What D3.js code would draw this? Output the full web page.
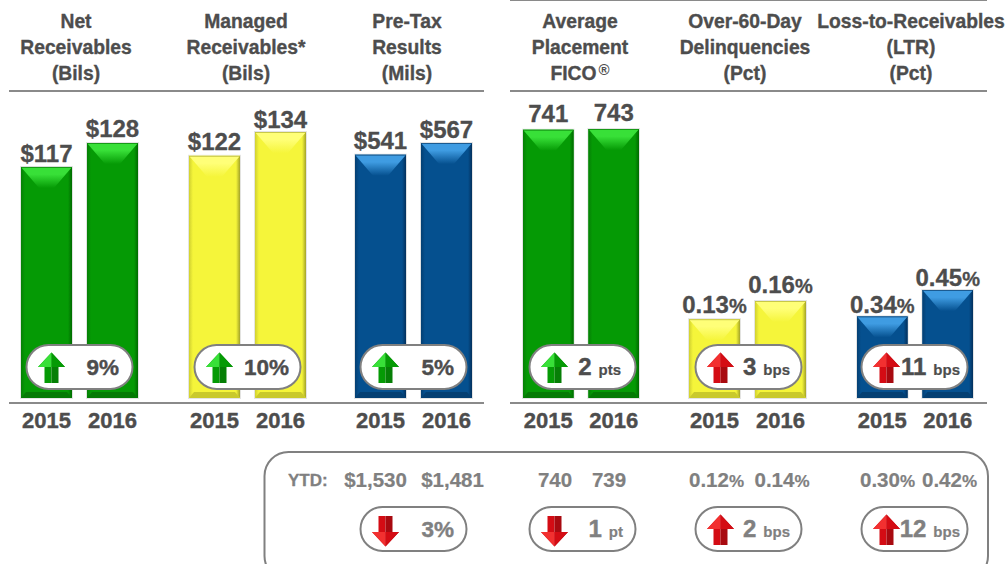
<!DOCTYPE html>
<html><head><meta charset="utf-8">
<script src="https://cdnjs.cloudflare.com/ajax/libs/d3/7.8.5/d3.min.js"></script>
<style>html,body{margin:0;padding:0;background:#fff;overflow:hidden}
text{font-family:"Liberation Sans",Arial,sans-serif;font-weight:700;stroke-linejoin:round}</style></head>
<body><svg id="c" width="1005" height="564"></svg>
<script>
const years = ["2015","2016"];
const titles = [
  ["Net","Receivables","(Bils)"],
  ["Managed","Receivables*","(Bils)"],
  ["Pre-Tax","Results","(Mils)"],
  ["Average","Placement","FICO"],
  ["Over-60-Day","Delinquencies","(Pct)"],
  ["Loss-to-Receivables","(LTR)","(Pct)"]];
const values2015 = [117,122,541,741,0.13,0.34];
const values2016 = [128,134,567,743,0.16,0.45];
const valuePrefix = ["$","$","$","","",""];
const valueSuffix = ["","","","","%","%"];
const valueDigits = [0,0,0,0,2,2];
const palette = ["green","yellow","blue","green","yellow","blue"];
const changeDir = ["up","up","up","up","up","up"];
const changeColor = ["green","green","green","green","red","red"];
const changeNum = ["9%","10%","5%","2","3","11"];
const changeUnit = ["","","","pts","bps","bps"];
const ytd2015 = [null,null,"$1,530","740","0.12","0.30"];
const ytd2016 = [null,null,"$1,481","739","0.14","0.42"];
const ytdDir = [null,null,"down","down","up","up"];
const ytdColor = [null,null,"red","red","red","red"];
const ytdNum = [null,null,"3%","1","2","12"];
const ytdUnit = [null,null,"","pt","bps","bps"];

// layout
const panelLeft = [21,189,355,523,689,857];
const panelWidth = [117,117,117,116,117,116];
const titleCenter = [76,246,407,580,745,911];
const baseY = 398;
const domainMin = [11,0,0,0,0,0];
const domainMax = [128,134,567,743,0.16,0.45];
const rangeTop = [143,132,143,129,301,290];
const labelGap2015 = [5,6,6,8,6,3];
const labelGap2016 = [6,4,5,8,8,4];
const pillLeft = [26,194,360,529,695,861];
const pillW = 107;
const textRight = [93,95,94,92,95,99];
const ytdRight = [null,null,94,94,95,99];
const ytdCenter2015 = [null,null,375.5,555,716.5,887.5];
const ytdCenter2016 = [null,null,452.5,609,782,949.5];

const colors = {
  green:{base:"#059a05",light:"#38e038",edge:"#006a00",bot:"#047a04",mid:"#067f06"},
  yellow:{base:"#f5f53a",light:"#ffff78",edge:"#a3a328",bot:"#c9c92c",mid:"#d0d030"},
  blue:{base:"#05508f",light:"#3f9ce2",edge:"#03305c",bot:"#043f72",mid:"#043f72"},
  red:{base:"#d40c14",light:"#f23030",edge:"#8c0508",bot:"#a00a0f",mid:"#a80a10"}
};
const ink="#4d4d4d", grey="#808080", ruleC="#8a8a8a";

const svg=d3.select("#c");
const defs=svg.append("defs");
Object.entries(colors).forEach(([k,c])=>{
  const g=defs.append("linearGradient").attr("id","top-"+k).attr("x1",0).attr("y1",0).attr("x2",0).attr("y2",1);
  g.append("stop").attr("offset",0).attr("stop-color",c.light);
  g.append("stop").attr("offset",.35).attr("stop-color",c.light);
  g.append("stop").attr("offset",1).attr("stop-color",c.base);
  [["l",0,1],["r",1,0]].forEach(([n,a,b])=>{
    const s=defs.append("linearGradient").attr("id",n+"-"+k).attr("x1",a).attr("y1",0).attr("x2",b).attr("y2",0);
    s.append("stop").attr("offset",0).attr("stop-color",n==="l"?c.mid:c.edge);
    s.append("stop").attr("offset",1).attr("stop-color",c.base);
  });
});

function rule(x1,x2,y){svg.append("line").attr("x1",x1).attr("x2",x2).attr("y1",y).attr("y2",y).attr("stroke",ruleC).attr("stroke-width",2);}
rule(510,987,0);
[[9,484],[510,987]].forEach(([a,b])=>{rule(a,b,91);rule(a,b,403);});

function heavy(sel,w,col){return sel.attr("stroke",col).attr("stroke-width",w);}

titles.forEach((t,i)=>{
  t.forEach((line,j)=>{
    const el=svg.append("text").attr("x",titleCenter[i]).attr("y",28+j*26).attr("text-anchor","middle")
      .attr("font-size",19.3).attr("fill",ink).text(line);
    heavy(el,.35,ink);
    if(line==="FICO"){el.append("tspan").attr("font-size",15).attr("dy",-5).attr("dx",2).attr("stroke-width",0).text("®");}
  });
});

function poly(g,pts,fill){g.append("polygon").attr("points",pts.map(p=>p.join(",")).join(" ")).attr("fill",fill);}

titles.forEach((_,i)=>{
  const x=d3.scaleBand().domain(years).range([panelLeft[i],panelLeft[i]+panelWidth[i]]).paddingInner(0.227);
  const y=d3.scaleLinear().domain([domainMin[i],domainMax[i]]).range([baseY,rangeTop[i]]);
  const c=colors[palette[i]], p=palette[i];
  [values2015[i],values2016[i]].forEach((v,k)=>{
    const g=svg.append("g");
    const x0=x(years[k]), w=x.bandwidth(), x1=x0+w, t=y(v), b=y(domainMin[i]);
    g.append("rect").attr("x",x0-1).attr("y",t-1).attr("width",w+2).attr("height",b-t+2).attr("fill","#e4e4e4");
    g.append("rect").attr("x",x0).attr("y",t).attr("width",w).attr("height",b-t).attr("fill",c.base);
    const e=4;
    poly(g,[[x0,t],[x0+e,t+e],[x0+e,b-e],[x0,b]],`url(#l-${p})`);
    poly(g,[[x1,t],[x1-e,t+e],[x1-e,b-e],[x1,b]],`url(#r-${p})`);
    poly(g,[[x0,b],[x0+e+1,b-6],[x1-e-1,b-6],[x1,b]],c.bot);
    poly(g,[[x0,t],[x1,t],[x1-18,t+21],[x0+18,t+21]],`url(#top-${p})`);
    g.append("line").attr("x1",x0).attr("x2",x1).attr("y1",t+.5).attr("y2",t+.5).attr("stroke",c.edge).attr("stroke-opacity",.6);
    const gap=(k?labelGap2016:labelGap2015)[i];
    const lab=svg.append("text").attr("x",x0+w/2).attr("y",t-gap).attr("text-anchor","middle")
      .attr("font-size",24).attr("fill",ink).text(valuePrefix[i]+d3.format("."+valueDigits[i]+"f")(v));
    heavy(lab,.3,ink);
    if(valueSuffix[i]) lab.append("tspan").attr("font-size",20).text(valueSuffix[i]);
  });
  const ax=svg.append("g").attr("transform","translate(0,408)").call(d3.axisBottom(x).tickSize(0).tickPadding(0));
  ax.select(".domain").remove();
  ax.selectAll("text").attr("font-size",22).attr("fill",ink).attr("font-family",null).attr("dy",null).attr("y",20).attr("stroke",ink).attr("stroke-width",.4);
  pill(pillLeft[i],345,changeDir[i],changeColor[i],changeNum[i],changeUnit[i],textRight[i],ink);
  if(ytdNum[i]){
    pill(pillLeft[i],507,ytdDir[i],ytdColor[i],ytdNum[i],ytdUnit[i],ytdRight[i],grey);
    [ytd2015[i],ytd2016[i]].forEach((s,k)=>{
      const tx=svg.append("text").attr("x",(k?ytdCenter2016:ytdCenter2015)[i]).attr("y",487).attr("text-anchor","middle").attr("font-size",20.5).attr("fill",grey).text(s);
      heavy(tx,.2,grey);
      if(i>3) tx.append("tspan").attr("font-size",17).text("%");
    });
  }
});

function pill(left,top,dir,col,num,unit,right,fill){
  const g=svg.append("g").attr("transform",`translate(${left},${top})`);
  g.append("rect").attr("x",.5).attr("y",0).attr("width",pillW-1).attr("height",44).attr("rx",22)
    .attr("fill","#fff").attr("stroke","#808080").attr("stroke-width",2);
  const c=colors[col], ax=25.5;
  const hw=13.5, sw=7;
  const A=g.append("g").attr("transform",`translate(${ax},${dir==="down"?24:23})`+(dir==="down"?" scale(1,-1)":""));
  const tip=-15.5, hb=-1, bot=15;
  poly(A,[[0,tip],[-hw,hb],[-sw,hb],[-sw,bot],[0,bot]],c.base);
  poly(A,[[0,tip],[hw,hb],[sw,hb],[sw,bot],[0,bot]],c.mid);
  poly(A,[[0,tip],[-hw,hb],[0,hb]],c.light);
  poly(A,[[0,tip],[hw,hb],[0,hb]],c.base);
  const t=g.append("text").attr("x",right).attr("y",30).attr("text-anchor","end").attr("font-size",unit?24:22.5).attr("fill",fill).text(num);
  heavy(t,.4,fill);
  if(unit) t.append("tspan").attr("font-size",15).attr("dx",7).attr("stroke-width",.2).text(unit);
}

const yt=svg.append("text").attr("x",288).attr("y",486).attr("font-size",17).attr("fill",grey).text("YTD:");
heavy(yt,.3,grey);
svg.append("rect").attr("x",264.5).attr("y",452).attr("width",723.5).attr("height",128).attr("rx",24)
  .attr("fill","none").attr("stroke","#808080").attr("stroke-width",2);
</script></body></html>
